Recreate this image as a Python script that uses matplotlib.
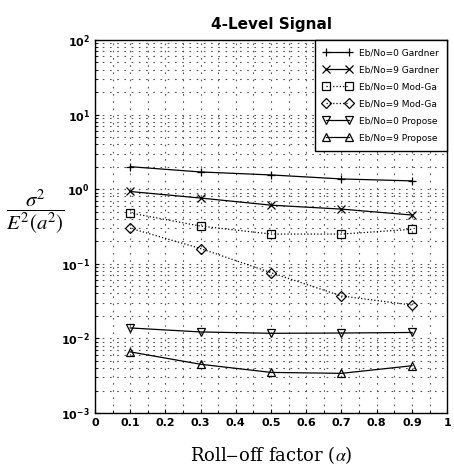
import numpy as np
import matplotlib
matplotlib.use("Agg")
import matplotlib.pyplot as plt
from matplotlib.ticker import LogLocator, MultipleLocator, NullFormatter

plt.rcParams["mathtext.fontset"] = "stix"

# roll-off factor values
alpha = [0.1, 0.3, 0.5, 0.7, 0.9]

# normalised variance
gardner_0 = [2.0, 1.7, 1.55, 1.37, 1.29]
gardner_9 = [0.93, 0.76, 0.61, 0.54, 0.45]
modga_0 = [0.48, 0.32, 0.25, 0.25, 0.29]
modga_9 = [0.30, 0.16, 0.076, 0.037, 0.028]
propose_0 = [0.0138, 0.0122, 0.0117, 0.0118, 0.0120]
propose_9 = [0.0066, 0.0045, 0.0035, 0.0034, 0.0043]

series = [
    ("Eb/No=0 Gardner", gardner_0, "+", "-"),
    ("Eb/No=9 Gardner", gardner_9, "x", "-"),
    ("Eb/No=0 Mod-Ga", modga_0, "s", ":"),
    ("Eb/No=9 Mod-Ga", modga_9, "D", ":"),
    ("Eb/No=0 Propose", propose_0, "v", "-"),
    ("Eb/No=9 Propose", propose_9, "^", "-"),
]

fig = plt.figure(figsize=(4.54, 4.75), dpi=100)
ax = fig.add_axes([0.209, 0.1305, 0.776, 0.7855])

for label, vals, marker, ls in series:
    ms = 5 if marker == "D" else 6
    ax.plot(alpha, vals, color="black", linestyle=ls, linewidth=0.9,
            marker=marker, markersize=ms, markerfacecolor="none",
            markeredgecolor="black", markeredgewidth=0.9, label=label)

ax.set_yscale("log")
ax.set_ylim(1e-3, 1e2)
ax.set_xlim(0, 1)
ax.xaxis.set_major_locator(MultipleLocator(0.1))
ax.xaxis.set_minor_locator(MultipleLocator(0.05))
ax.yaxis.set_major_locator(LogLocator(base=10, numticks=10))
ax.yaxis.set_minor_locator(LogLocator(base=10, subs=np.arange(2, 10), numticks=20))
ax.yaxis.set_minor_formatter(NullFormatter())
ax.set_xticks([0, 0.1, 0.2, 0.3, 0.4, 0.5, 0.6, 0.7, 0.8, 0.9, 1])
ax.set_xticklabels(["0", "0.1", "0.2", "0.3", "0.4", "0.5", "0.6", "0.7", "0.8", "0.9", "1"])

grid_style = dict(color="#555555", linestyle=(0, (1.5, 5)), linewidth=0.8)
ax.grid(True, which="major", **grid_style)
ax.grid(True, which="minor", **grid_style)

ax.tick_params(which="both", direction="in", labelsize=8, length=3)
ax.tick_params(which="minor", length=2)
for lab in ax.get_xticklabels() + ax.get_yticklabels():
    lab.set_fontweight("bold")
for s in ax.spines.values():
    s.set_linewidth(1.0)

ax.set_title("4-Level Signal", fontsize=11, fontweight="bold", pad=8)
ax.set_xlabel(r"Roll$-$off factor ($\alpha$)", fontsize=13, family="serif",
              labelpad=12)
ax.set_ylabel(r"$\dfrac{\sigma^2}{E^2(a^2)}$", fontsize=15, rotation=0,
              va="center", ha="center")
ax.yaxis.set_label_coords(-0.17, 0.54)

leg = ax.legend(loc="upper right", fontsize=6.5, frameon=True, fancybox=False,
                edgecolor="black", borderaxespad=0.0, handlelength=3.2,
                labelspacing=0.9, borderpad=0.9, numpoints=2, framealpha=1)
leg.get_frame().set_linewidth(1.0)

fig.savefig("out.png", dpi=100)
